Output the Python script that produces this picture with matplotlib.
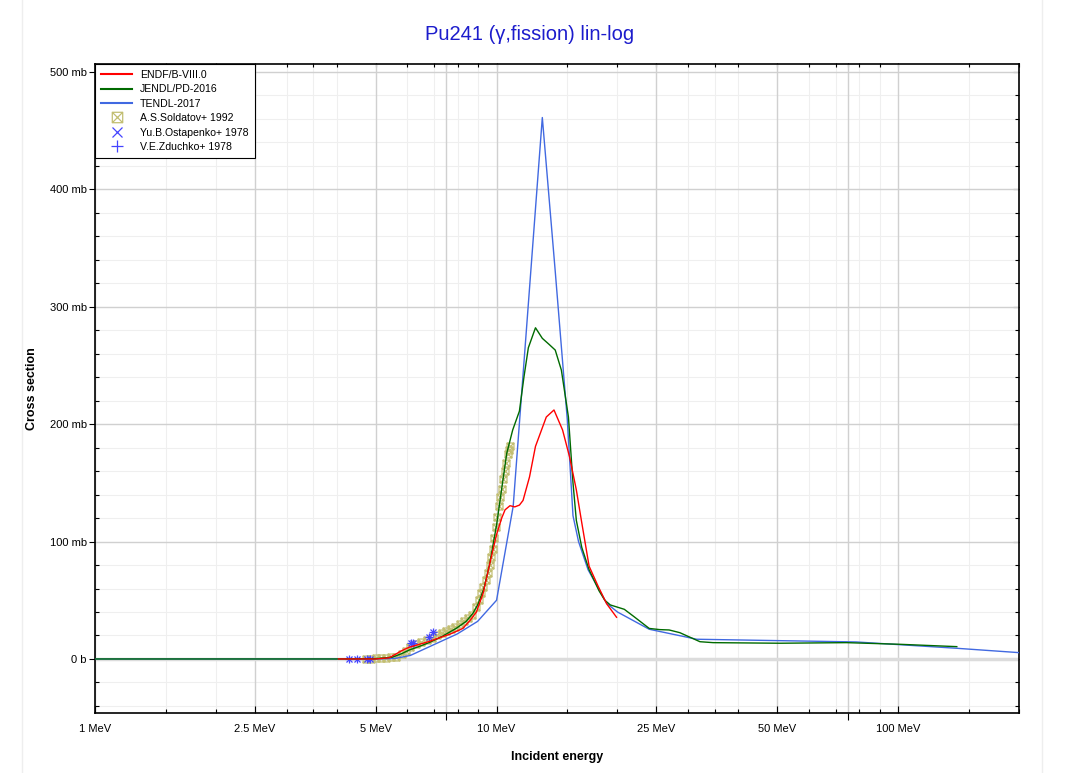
import matplotlib
matplotlib.use("Agg")
import matplotlib.pyplot as plt
from matplotlib.path import Path
from matplotlib.ticker import FixedLocator, NullFormatter, FixedFormatter

plt.rcParams['font.family'] = ['Liberation Sans', 'DejaVu Sans']

# ---------------- data ----------------
endf_e = [4.04, 5.0, 5.4, 5.6, 5.8, 6.06, 6.5, 6.81, 7.2, 7.64, 8.0, 8.24, 8.6, 8.91,
          9.26, 9.63, 10.0, 10.3, 10.5, 10.8, 11.1, 11.4, 11.64, 12.08, 12.5, 13.3,
          13.9, 14.6, 15.2, 15.8, 16.3, 17.0, 17.9, 18.8, 19.9]
endf_xs = [0, 0, 1, 4, 7, 10, 13, 15, 18, 21, 24, 26, 33, 40,
           56, 82, 106, 120, 127, 130.5, 129.5, 131, 135, 155, 181, 206,
           212, 195, 172, 144, 116, 79, 62, 47, 35.5]

jendl_e = [1, 2, 3, 4, 5, 5.5, 5.8, 6.07, 6.4, 6.8, 7.3, 7.93, 8.4, 8.74, 9.0, 9.3,
           9.6, 10.0, 10.3, 10.6, 10.97, 11.4, 11.7, 12.0, 12.5, 13.0, 13.5, 14.0,
           14.5, 15.1, 15.5, 15.8, 16.3, 17.0, 18.0, 18.6, 19.2, 20.8, 22.0, 24.0,
           25.5, 26.9, 28.6, 32.1, 34.6, 50.6, 74.4, 101, 140]
jendl_xs = [0, 0, 0, 0, 0.3, 1.5, 4.5, 7.7, 10.5, 14, 19, 26, 32, 39, 47, 60,
            80, 114, 145, 175, 195, 211, 240, 265, 282, 273, 268, 263,
            246, 206, 150, 118, 95, 76, 58, 50, 46, 42.3, 36, 26,
            25, 24.7, 22.4, 14.7, 13.9, 13.4, 13.9, 12.5, 10.5]

tendl_e = [1, 5, 5.6, 6.1, 7.98, 8.97, 10.0, 11.0, 13.0, 14.0, 15.0, 15.5, 16.0,
           16.9, 18.8, 20.0, 24.0, 31.5, 50.6, 78.6, 140, 200]
tendl_xs = [0, 0, 0.5, 3, 21.3, 32, 50, 130, 461, 330, 204, 122, 100,
            76, 47.4, 40, 25.3, 16.8, 15.6, 14.5, 9.1, 5.4]

soldatov_e = [4.74, 4.87, 5.01, 5.16, 5.31, 5.46, 5.63, 5.8, 5.95, 6.1, 6.3, 6.5, 6.7,
              6.9, 7.1, 7.3, 7.5, 7.7, 7.9, 8.1, 8.3, 8.5, 8.68, 8.87, 9.05, 9.16,
              9.26, 9.4, 9.52, 9.61, 9.7, 9.79, 9.85, 9.94, 10.02, 10.13, 10.22,
              10.31, 10.37, 10.47, 10.57, 10.67, 10.73, 10.83]
soldatov_xs = [0, 0, 0.5, 0.5, 1, 1.5, 2, 4, 7, 10, 12.5, 14.5, 16,
               18, 20.5, 22.5, 24, 25.5, 27.5, 30, 32, 35, 37.5, 44, 50, 56,
               61.6, 67, 73, 80, 87, 94, 103, 112.7, 121, 130, 138,
               145, 153, 160, 167, 174.6, 178, 181]

ostapenko_e = [4.28, 4.48, 4.75, 4.84, 6.14, 6.2, 6.8, 6.93]
ostapenko_xs = [0, 0, 0, 0, 13.3, 14, 18.5, 23.3]

zduchko_e = [4.28, 4.48, 4.75, 4.84, 6.14, 6.2, 6.8, 6.93]
zduchko_xs = [0, 0, 0, 0, 13.3, 14, 18.5, 23.3]

x_major = [1, 2.5, 5, 10, 25, 50, 100]
x_major_labels = ['1 MeV', '2.5 MeV', '5 MeV', '10 MeV', '25 MeV', '50 MeV', '100 MeV']
x_minor = [1.5, 2, 3, 3.5, 4, 6, 7, 8, 9, 15, 20, 30, 35, 40, 60, 70, 80, 90, 150, 200]
x_extra = [7.5, 75]
y_major = [0, 100, 200, 300, 400, 500]
y_major_labels = ['0 b', '100 mb', '200 mb', '300 mb', '400 mb', '500 mb']

# ---------------- figure ----------------
W, H = 1067, 773
fig = plt.figure(figsize=(W / 100, H / 100), dpi=100)
ax = fig.add_axes([95 / W, 1 - 713 / H, (1019 - 95) / W, (713 - 63.5) / H])

for xp in (22, 1042):
    fig.add_artist(plt.Line2D([xp / W, xp / W], [0, 1], color='#eeeeee', lw=1,
                              transform=fig.transFigure))

ax.set_xscale('log')
ax.set_xlim(1, 200)
ax.set_ylim(-46, 507)

y_minor = [v for v in range(-40, 501, 20) if v % 100]

# grid
for v in x_minor:
    ax.axvline(v, color='#efefef', lw=0.8, zorder=0)
for v in x_major + x_extra:
    ax.axvline(v, color='#d0d0d0', lw=1.0, zorder=0.5)
for v in y_minor:
    ax.axhline(v, color='#efefef', lw=0.8, zorder=0)
for v in y_major:
    ax.axhline(v, color='#d0d0d0', lw=1.0, zorder=0.5)
ax.axhline(0, color='#dcdcdc', lw=2.5, zorder=0.6)

sq_x = Path([(-1, -1), (1, -1), (1, 1), (-1, 1), (-1, -1), (-1, -1), (1, 1), (-1, 1), (1, -1)],
            [Path.MOVETO, Path.LINETO, Path.LINETO, Path.LINETO, Path.CLOSEPOLY,
             Path.MOVETO, Path.LINETO, Path.MOVETO, Path.LINETO])

ax.plot(endf_e, endf_xs, color='#ff0000', lw=1.0, label='ENDF/B-VIII.0', zorder=4)
ax.plot(jendl_e, jendl_xs, color='#006a00', lw=1.0, label='JENDL/PD-2016', zorder=3.5)
ax.plot(tendl_e, tendl_xs, color='#4169e1', lw=1.0, label='TENDL-2017', zorder=3)
ax.plot(soldatov_e, soldatov_xs, ls='none', marker=sq_x, ms=5, mfc='none',
        mec='#c2be72', mew=0.9, label='A.S.Soldatov+ 1992', zorder=2)
ax.plot(ostapenko_e, ostapenko_xs, ls='none', marker='x', ms=5, mec='#4444ff',
        mew=0.9, label='Yu.B.Ostapenko+ 1978', zorder=2.5)
ax.plot(zduchko_e, zduchko_xs, ls='none', marker='+', ms=6, mec='#4444ff',
        mew=0.9, label='V.E.Zduchko+ 1978', zorder=2.5)

# ticks
ax.xaxis.set_major_locator(FixedLocator(x_major))
ax.xaxis.set_major_formatter(FixedFormatter(x_major_labels))
ax.xaxis.set_minor_locator(FixedLocator(x_minor))
ax.xaxis.set_minor_formatter(NullFormatter())
ax.tick_params(axis='x', which='major', direction='in', length=5, width=0.8,
               labelsize=8, pad=8)
ax.tick_params(axis='x', which='minor', direction='in', length=3, width=0.8)

ax.yaxis.set_major_locator(FixedLocator(y_major))
ax.yaxis.set_major_formatter(FixedFormatter(y_major_labels))
ax.yaxis.set_minor_locator(FixedLocator(y_minor))
ax.yaxis.set_minor_formatter(NullFormatter())
ax.tick_params(axis='y', which='major', direction='out', length=4, width=0.8,
               labelsize=8, pad=2)
ax.tick_params(axis='y', which='minor', direction='in', length=3, width=0.8)

sec_b = ax.secondary_xaxis('bottom')
sec_b.xaxis.set_major_locator(FixedLocator(x_extra))
sec_b.xaxis.set_major_formatter(NullFormatter())
sec_b.xaxis.set_minor_locator(FixedLocator([]))
sec_b.xaxis.set_minor_formatter(NullFormatter())
sec_b.tick_params(direction='out', length=5, width=0.8)
sec_b.spines['bottom'].set_visible(False)

sec_t = ax.secondary_xaxis('top')
sec_t.xaxis.set_major_locator(FixedLocator(x_major + x_extra))
sec_t.xaxis.set_major_formatter(NullFormatter())
sec_t.xaxis.set_minor_locator(FixedLocator(x_minor))
sec_t.xaxis.set_minor_formatter(NullFormatter())
sec_t.tick_params(which='both', direction='in', length=3, width=0.8)
sec_t.spines['top'].set_visible(False)

sec_r = ax.secondary_yaxis('right')
sec_r.yaxis.set_major_locator(FixedLocator(y_major))
sec_r.yaxis.set_major_formatter(NullFormatter())
sec_r.yaxis.set_minor_locator(FixedLocator(y_minor))
sec_r.yaxis.set_minor_formatter(NullFormatter())
sec_r.tick_params(which='major', direction='in', length=4, width=0.8)
sec_r.tick_params(which='minor', direction='in', length=3, width=0.8)
sec_r.spines['right'].set_visible(False)

for s in ax.spines.values():
    s.set_linewidth(1.2)
    s.set_color('black')

ax.set_xlabel('Incident energy', fontsize=9, fontweight='bold', labelpad=12)
ax.set_ylabel('Cross section', fontsize=9, fontweight='bold', labelpad=8)
fig.text(530 / W, 1 - 34 / H, 'Pu241 (\u03b3,fission) lin-log', color='#1c1ccc',
         fontsize=14.5, ha='center', va='center')

leg = ax.legend(loc='upper left', fontsize=7.6, frameon=True, fancybox=False,
                edgecolor='black', borderaxespad=0, borderpad=0.6, labelspacing=0.42,
                handlelength=2.9, handletextpad=0.75, framealpha=1, markerscale=1.5)
leg.get_frame().set_linewidth(0.8)
for ln in leg.get_lines()[:3]:
    ln.set_linewidth(1.5)

fig.savefig('out.png', dpi=100)
